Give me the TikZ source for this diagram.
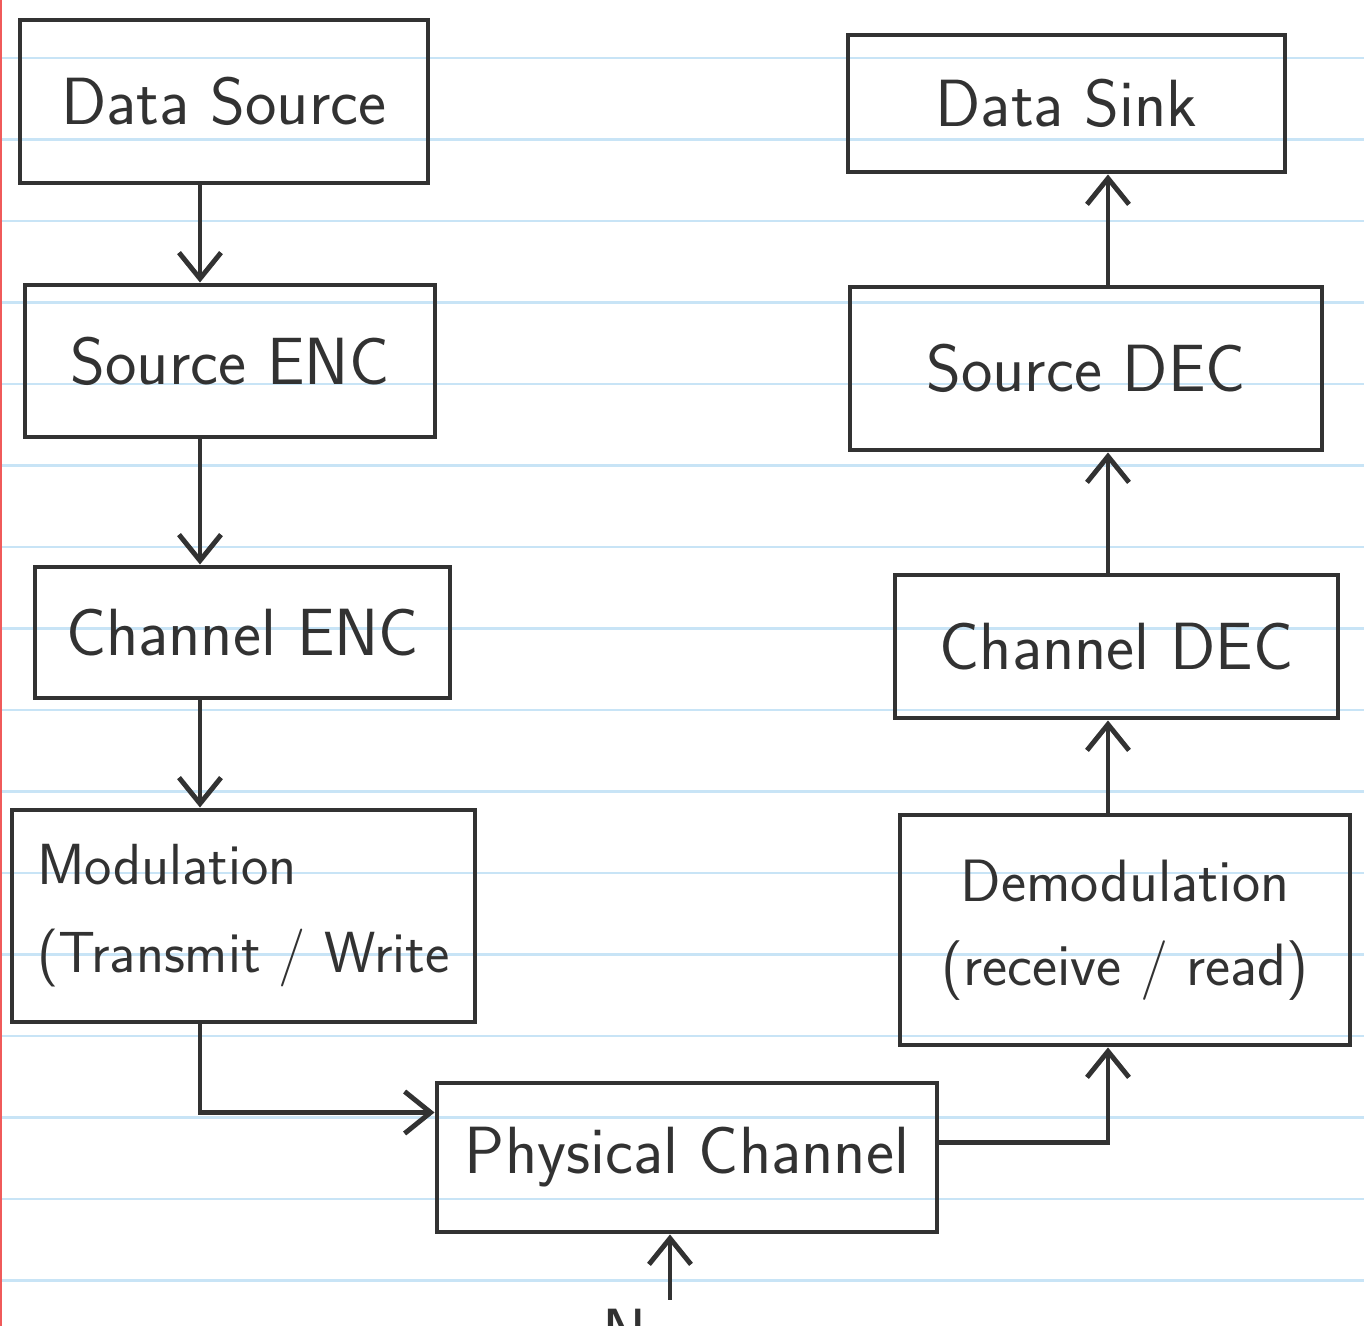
\documentclass[tikz,border=0pt]{standalone}
\usetikzlibrary{arrows.meta}
\definecolor{ink}{RGB}{50,50,50}
\definecolor{ruleblue}{RGB}{200,228,246}
\definecolor{marginred}{RGB}{240,90,90}
\tikzset{
  hand/.style={font=\sffamily\fontsize{19}{26}\selectfont, text=ink},
  blockbox/.style={hand, draw=ink, line width=1.4pt, inner sep=2pt},
  flow/.style={draw=ink, line width=1.4pt, -{Straight Barb[length=2.6mm, width=4.2mm, line width=1.4pt]}},
  ruleline/.style={ruleblue, line width=0.8pt}
}
\begin{document}
\begin{tikzpicture}
\useasboundingbox (0,0) rectangle (13.64,-13.26);
\fill[white] (0,0) rectangle (13.64,-13.26);
\foreach \k in {0,...,15}{\draw[ruleline] (0,-0.58-0.815*\k) -- (13.64,-0.58-0.815*\k);}
\draw[marginred, line width=0.8pt] (0.01,0) -- (0.01,-13.26);

\node[blockbox, minimum width=4.08cm, minimum height=1.63cm] (datasrc) at (2.24,-1.015){Data Source};
\node[blockbox, minimum width=4.10cm, minimum height=1.52cm] (srcenc) at (2.30,-3.61){Source ENC};
\node[blockbox, minimum width=4.15cm, minimum height=1.31cm] (chenc) at (2.425,-6.325){Channel ENC};
\node[blockbox, minimum width=4.63cm, minimum height=2.12cm, align=left, font=\sffamily\fontsize{16.5}{25}\selectfont] (modul) at (2.435,-9.16){Modulation\\(Transmit / Write};
\node[blockbox, minimum width=5.00cm, minimum height=1.49cm] (physch) at (6.87,-11.575){Physical Channel};
\node[blockbox, minimum width=4.50cm, minimum height=2.30cm, align=center, font=\sffamily\fontsize{17}{24}\selectfont] (demod) at (11.25,-9.30){Demodulation\\(receive / read)};
\node[blockbox, minimum width=4.43cm, minimum height=1.43cm] (chdec) at (11.165,-6.465){Channel DEC};
\node[blockbox, minimum width=4.72cm, minimum height=1.63cm] (srcdec) at (10.86,-3.685){Source DEC};
\node[blockbox, minimum width=4.37cm, minimum height=1.37cm] (datasink) at (10.665,-1.035){Data Sink};

\coordinate (txcol) at (2.0,0);
\coordinate (rxcol) at (11.08,0);
\coordinate (noise) at (6.70,-13.0);
\node[hand, anchor=north, inner sep=0pt] (noiselbl) at (6.25,-13.08){N};

\draw[flow] (datasrc.south -| txcol) -- (srcenc.north -| txcol);
\draw[flow] (srcenc.south -| txcol) -- (chenc.north -| txcol);
\draw[flow] (chenc.south -| txcol) -- (modul.north -| txcol);
\draw[flow] (modul.south -| txcol) |- ([yshift=0.45cm]physch.west);
\draw[flow] ([yshift=0.15cm]physch.east) -| (demod.south -| rxcol);
\draw[flow] (demod.north -| rxcol) -- (chdec.south -| rxcol);
\draw[flow] (chdec.north -| rxcol) -- (srcdec.south -| rxcol);
\draw[flow] (srcdec.north -| rxcol) -- (datasink.south -| rxcol);
\draw[flow] (noise) -- (physch.south -| noise);
\end{tikzpicture}
\end{document}
